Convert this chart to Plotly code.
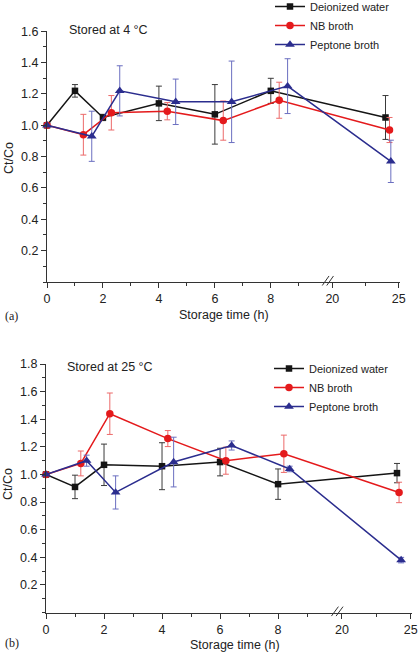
import plotly.graph_objects as go

# ---------------- data ----------------
# (a) Stored at 4 °C
a_dw_t = [0, 1, 2, 4, 6, 8, 24]
a_dw_y = [1.00, 1.22, 1.05, 1.14, 1.07, 1.22, 1.05]
a_dw_e = [0.0, 0.04, 0.02, 0.11, 0.19, 0.08, 0.14]

a_nb_t = [0, 1.3, 2.3, 4.3, 6.3, 8.3, 24.3]
a_nb_y = [1.00, 0.94, 1.08, 1.09, 1.03, 1.16, 0.97]
a_nb_e = [0.0, 0.13, 0.11, 0.055, 0.125, 0.115, 0.08]

a_pb_t = [0, 1.6, 2.6, 4.6, 6.6, 8.6, 24.4]
a_pb_y = [1.00, 0.93, 1.22, 1.15, 1.15, 1.25, 0.77]
a_pb_e = [0.0, 0.16, 0.16, 0.145, 0.26, 0.175, 0.135]

# (b) Stored at 25 °C
b_dw_t = [0, 1, 2, 4, 6, 8, 24]
b_dw_y = [1.00, 0.91, 1.07, 1.06, 1.09, 0.93, 1.01]
b_dw_e = [0.0, 0.085, 0.15, 0.17, 0.10, 0.11, 0.07]

b_nb_t = [0, 1.2, 2.2, 4.2, 6.2, 8.2, 24.15]
b_nb_y = [1.00, 1.08, 1.44, 1.26, 1.10, 1.15, 0.87]
b_nb_e = [0.0, 0.09, 0.15, 0.058, 0.098, 0.135, 0.074]

b_pb_t = [0, 1.4, 2.4, 4.4, 6.4, 8.4, 24.3]
b_pb_y = [1.00, 1.10, 0.87, 1.09, 1.21, 1.04, 0.38]
b_pb_e = [0.0, 0.04, 0.12, 0.18, 0.033, 0.02, 0.02]

series_names = ["Deionized water", "NB broth", "Peptone broth"]
x_major_vals = [0, 2, 4, 6, 8, 20, 25]
x_major_text = ["0", "2", "4", "6", "8", "20", "25"]
x_minor_vals = [1, 3, 5, 7, 9, 22.5]
y_top_ticks = [0.2, 0.4, 0.6, 0.8, 1.0, 1.2, 1.4, 1.6]
y_bot_ticks = [0.2, 0.4, 0.6, 0.8, 1.0, 1.2, 1.4, 1.6, 1.8]

# ---------------- broken-axis transform ----------------
BREAK_AT = 10.0     # end of first segment (h)
SEG2_START = 20.0   # start of second segment (h)
SEG2_POS = 10.2     # axis position of 20 h
SEG2_SCALE = 0.475  # compression of second segment


def tx(t):
    return t if t <= BREAK_AT else SEG2_POS + (t - SEG2_START) * SEG2_SCALE


def txs(ts):
    return [tx(t) for t in ts]


W, H = 419, 653
FONT = "Arial, 'Liberation Sans', sans-serif"

colors = ["#151515", "#e41a1c", "#2b2d8e"]
err_colors = ["#3a3a3a", "#ec6a6a", "#6b6fc0"]
symbols = ["square", "circle", "triangle-up"]
msizes = [6.5, 7.5, 8.5]

fig = go.Figure()

panels = [
    ("x", "y", "legend", [(a_dw_t, a_dw_y, a_dw_e), (a_nb_t, a_nb_y, a_nb_e), (a_pb_t, a_pb_y, a_pb_e)]),
    ("x2", "y2", "legend2", [(b_dw_t, b_dw_y, b_dw_e), (b_nb_t, b_nb_y, b_nb_e), (b_pb_t, b_pb_y, b_pb_e)]),
]

for xa, ya, leg, data in panels:
    for i, (t, y, e) in enumerate(data):
        fig.add_trace(go.Scatter(
            x=txs(t), y=y, mode="lines+markers", name=series_names[i],
            xaxis=xa, yaxis=ya, legend=leg,
            line=dict(color=colors[i], width=1.5),
            marker=dict(symbol=symbols[i], size=msizes[i], color=colors[i],
                        line=dict(width=0)),
            error_y=dict(type="data", array=e, visible=True, thickness=1,
                         width=3, color=err_colors[i]),
            cliponaxis=False,
        ))

x_range = [0, 12.6]


def xaxis_cfg(domain, anchor):
    return dict(
        domain=domain, anchor=anchor, range=x_range,
        showline=True, linecolor="#333", linewidth=1,
        ticks="outside", ticklen=5, tickwidth=1, tickcolor="#333",
        tickmode="array", tickvals=txs(x_major_vals), ticktext=x_major_text,
        minor=dict(tickmode="array", tickvals=txs(x_minor_vals), ticks="outside",
                   ticklen=3, tickcolor="#333"),
        showgrid=False, zeroline=False, automargin=False,
        tickfont=dict(family=FONT, size=12.5, color="#222"),
    )


def yaxis_cfg(domain, anchor, rng, ticks):
    return dict(
        domain=domain, anchor=anchor, range=rng,
        showline=True, linecolor="#333", linewidth=1,
        ticks="outside", ticklen=5, tickwidth=1, tickcolor="#333",
        tickmode="array", tickvals=ticks, ticktext=[f"{v:.1f}" for v in ticks],
        minor=dict(dtick=0.1, tick0=0, ticks="outside", ticklen=3, tickcolor="#333"),
        showgrid=False, zeroline=False, automargin=False,
        tickfont=dict(family=FONT, size=12.5, color="#222"),
    )


top_x_dom = [47 / W, 399.5 / W]
bot_x_dom = [46 / W, 411.5 / W]
top_y_dom = [1 - 282 / H, 1 - 31.3 / H]
bot_y_dom = [1 - 612.6 / H, 1 - 364 / H]

fig.update_layout(
    width=W, height=H,
    margin=dict(l=0, r=0, t=0, b=0, autoexpand=False),
    paper_bgcolor="white", plot_bgcolor="white",
    font=dict(family=FONT, size=12.5, color="#222"),
    xaxis=xaxis_cfg(top_x_dom, "y"),
    yaxis=yaxis_cfg(top_y_dom, "x", [0, 1.6], y_top_ticks),
    xaxis2=xaxis_cfg(bot_x_dom, "y2"),
    yaxis2=yaxis_cfg(bot_y_dom, "x2", [0, 1.8], y_bot_ticks),
    legend=dict(x=270 / W, y=1 + 8 / H, xanchor="left", yanchor="top",
                bgcolor="rgba(0,0,0,0)", font=dict(family=FONT, size=11, color="#222"),
                tracegroupgap=0, itemwidth=30),
    legend2=dict(x=269 / W, y=1 - 354 / H, xanchor="left", yanchor="top",
                 bgcolor="rgba(0,0,0,0)", font=dict(family=FONT, size=11, color="#222"),
                 tracegroupgap=0, itemwidth=30),
    showlegend=True,
)

# axis-break marks "//"
brk = (BREAK_AT + SEG2_POS) / 2 - 0.06
for xa, ya in [("x", "y"), ("x2", "y2")]:
    for off in (-0.08, 0.08):
        fig.add_shape(type="line", xref=xa, yref=f"{ya} domain",
                      x0=brk + off - 0.12, x1=brk + off + 0.12,
                      y0=-0.014, y1=0.024,
                      line=dict(color="#333", width=1))

annotations = [
    dict(text="Stored at 4 °C", x=67 / W, y=1 - 30 / H, xanchor="left", yanchor="middle"),
    dict(text="Stored at 25 °C", x=65 / W, y=1 - 367 / H, xanchor="left", yanchor="middle"),
    dict(text="Storage time (h)", x=224 / W, y=1 - 315 / H, xanchor="center", yanchor="middle"),
    dict(text="Storage time (h)", x=235 / W, y=1 - 645 / H, xanchor="center", yanchor="middle"),
    dict(text="Ct/Co", x=9 / W, y=1 - 158 / H, xanchor="center", yanchor="middle", textangle=-90),
    dict(text="Ct/Co", x=8 / W, y=1 - 484 / H, xanchor="center", yanchor="middle", textangle=-90),
]
for a in annotations:
    fig.add_annotation(xref="paper", yref="paper", showarrow=False,
                       font=dict(family=FONT, size=12.5, color="#222"), **a)

for txt, yy in [("(a)", 316), ("(b)", 643)]:
    fig.add_annotation(xref="paper", yref="paper", showarrow=False, text=txt,
                       x=3 / W, y=1 - yy / H, xanchor="left", yanchor="middle",
                       font=dict(family="'Liberation Serif', 'DejaVu Serif', serif",
                                 size=12, color="#222"))

fig.write_html("out.html", config={"displayModeBar": False},
               post_script="document.body.style.margin='0';document.body.style.overflow='hidden';")
